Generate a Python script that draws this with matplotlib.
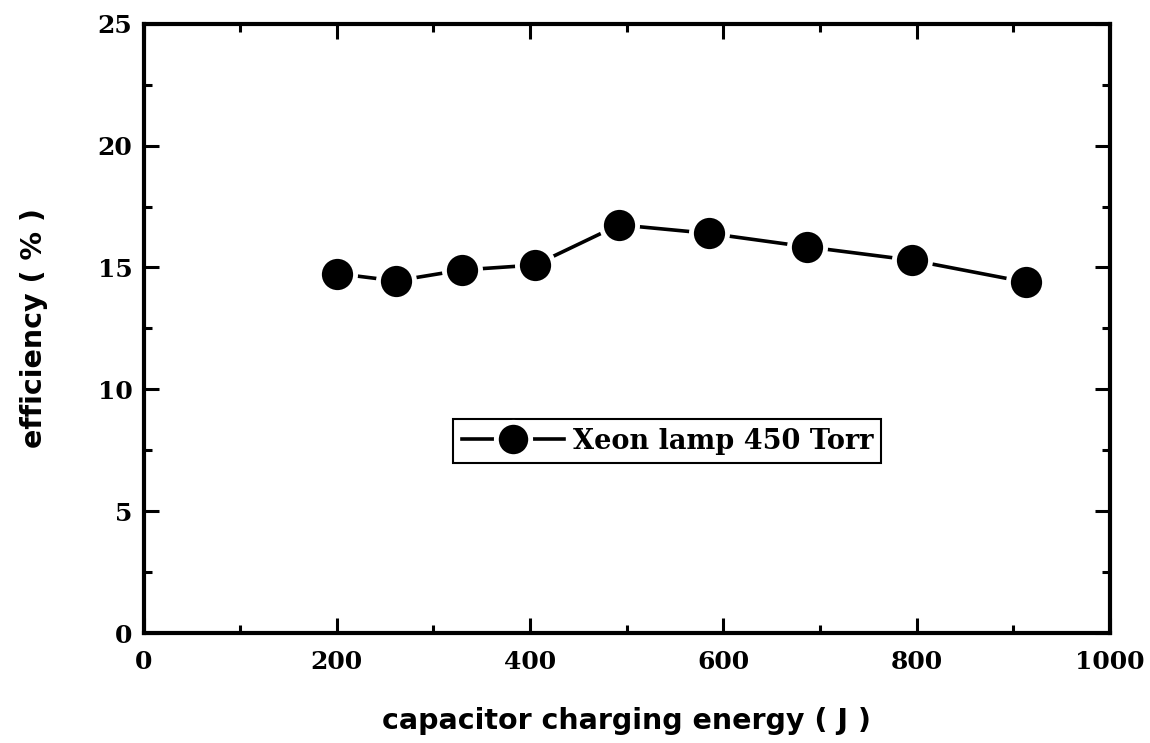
import matplotlib
matplotlib.use('Agg')
import matplotlib.pyplot as plt
from matplotlib.ticker import MultipleLocator

# charging energy (J) vs. efficiency (%)
energy_j = [200, 261, 330, 405, 492, 585, 686, 795, 913]
efficiency_pct = [14.75, 14.45, 14.9, 15.1, 16.75, 16.4, 15.85, 15.3, 14.4]
series_label = 'Xeon lamp 450 Torr'

tick_font = dict(family='DejaVu Serif', weight='bold', size=18)
label_font = dict(family='DejaVu Sans', weight='bold', size=20.5)

fig = plt.figure(figsize=(11.5, 7.43), dpi=100)
ax = fig.add_axes([0.1248, 0.148, 0.8404, 0.820])

ax.plot(energy_j, efficiency_pct, color='black', linewidth=2.6,
        marker='o', markersize=26, markerfacecolor='black',
        markeredgecolor='white', markeredgewidth=3.5, label=series_label)

ax.set_xlim(0, 1000)
ax.set_ylim(0, 25)
ax.xaxis.set_major_locator(MultipleLocator(200))
ax.xaxis.set_minor_locator(MultipleLocator(100))
ax.yaxis.set_major_locator(MultipleLocator(5))
ax.yaxis.set_minor_locator(MultipleLocator(2.5))

for side in ax.spines.values():
    side.set_linewidth(3)

ax.tick_params(which='both', direction='in', top=True, right=True, width=2.2)
ax.tick_params(which='major', length=11)
ax.tick_params(which='minor', length=6)
ax.tick_params(axis='x', which='major', pad=12)
ax.tick_params(axis='y', which='major', pad=8)

for lab in ax.get_xticklabels() + ax.get_yticklabels():
    lab.set_fontfamily(tick_font['family'])
    lab.set_fontweight(tick_font['weight'])
    lab.set_fontsize(tick_font['size'])

ax.set_xlabel('capacitor charging energy ( J )', labelpad=24, **label_font)
ax.set_ylabel('efficiency ( % )', labelpad=36, **label_font)

leg = ax.legend(loc='center', bbox_to_anchor=(0.542, 0.315), frameon=True,
                fancybox=False, framealpha=1, edgecolor='black',
                handlelength=3.8, handletextpad=0.3, borderpad=0.3,
                markerscale=0.95,
                prop=dict(family='DejaVu Serif', weight='bold', size=19.5))
leg.get_frame().set_linewidth(1.5)

fig.savefig('out.png', dpi=100)
